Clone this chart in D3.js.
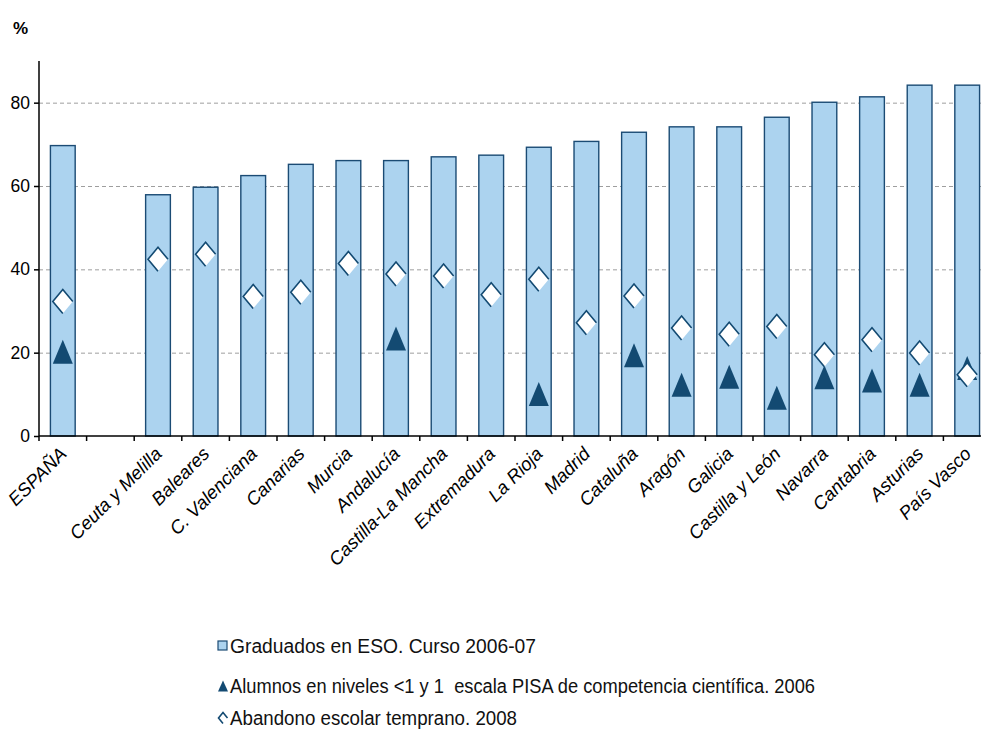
<!DOCTYPE html>
<html>
<head>
<meta charset="utf-8">
<script src="https://cdnjs.cloudflare.com/ajax/libs/d3/7.8.5/d3.min.js"></script>
<style>
  body { margin: 0; background: #fff; }
  svg { display: block; font-family: "Liberation Sans", Arial, sans-serif; }
</style>
</head>
<body>
<div id="chart"></div>
<script>
// regions, "" is the gap after ESPAÑA
const regions = ["ESPAÑA", "", "Ceuta y Melilla", "Baleares", "C. Valenciana", "Canarias",
  "Murcia", "Andalucía", "Castilla-La Mancha", "Extremadura", "La Rioja", "Madrid",
  "Cataluña", "Aragón", "Galicia", "Castilla y León", "Navarra", "Cantabria",
  "Asturias", "País Vasco"];

// Graduados en ESO. Curso 2006-07
const graduados = [69.7, null, 57.9, 59.7, 62.5, 65.2, 66.1, 66.1, 67.0, 67.4, 69.3,
  70.7, 72.9, 74.2, 74.2, 76.5, 80.1, 81.4, 84.2, 84.2];

// Alumnos en niveles <1 y 1 escala PISA (only some regions)
const pisa = [20.2, null, null, null, null, null, null, 23.4, null, null, 10.1,
  null, 19.4, 12.3, 14.2, 9.2, 14.1, 13.3, 12.3, 16.3];

// Abandono escolar temprano. 2008
const abandono = [32.3, null, 42.4, 43.6, 33.5, 34.5, 41.4, 38.9, 38.4, 33.9, 37.6,
  27.2, 33.6, 25.9, 24.4, 26.3, 19.5, 23.1, 19.9, 14.7];

const yTicks = [0, 20, 40, 60, 80];

const legendLabels = [
  "Graduados en ESO. Curso 2006-07",
  "Alumnos en niveles <1 y 1  escala PISA de competencia científica. 2006",
  "Abandono escolar temprano. 2008"
];

const W = 981, H = 729;
const barFill = "#acd3ef", barStroke = "#1b4b74", dark = "#134a72";

const svg = d3.select("#chart").append("svg")
  .attr("width", W).attr("height", H);

const x = d3.scaleBand().domain(d3.range(regions.length))
  .range([39, 991]).paddingInner(0.48).paddingOuter(0.24);
const xEdge = d3.scaleLinear().domain([0, regions.length]).range([39, 991]);
const y = d3.scaleLinear().domain([0, 90]).range([436, 61]);

// gridlines
svg.append("g").selectAll("line")
  .data(yTicks.filter(d => d > 0)).enter().append("line")
  .attr("x1", 39).attr("x2", W).attr("y1", d => y(d) + 0.5).attr("y2", d => y(d) + 0.5)
  .attr("stroke", "#9e9e9e").attr("stroke-width", 1).attr("stroke-dasharray", "4,3");

// bars
svg.append("g").selectAll("rect")
  .data(graduados.map((v, i) => ({ v, i })).filter(d => d.v != null)).enter().append("rect")
  .attr("x", d => x(d.i)).attr("width", x.bandwidth())
  .attr("y", d => y(d.v)).attr("height", d => y(0) - y(d.v))
  .attr("fill", barFill).attr("stroke", barStroke).attr("stroke-width", 1.4);

// y axis
const yAxis = d3.axisLeft(y).tickValues(yTicks).tickSize(5).tickPadding(4);
const gy = svg.append("g").attr("transform", "translate(39,0)").call(yAxis);
gy.select(".domain").attr("stroke", "#000").attr("stroke-width", 1.5)
  .attr("d", `M0,${y(90)}V${y(0)}`);
gy.selectAll(".tick line").attr("stroke", "#000").attr("stroke-width", 1.5);
gy.selectAll(".tick text").attr("font-size", 17.5).attr("fill", "#000")
  .attr("font-family", "Liberation Sans, Arial, sans-serif");

// x axis line + ticks at band edges
const gx = svg.append("g");
gx.append("line").attr("x1", 39).attr("x2", W).attr("y1", y(0)).attr("y2", y(0))
  .attr("stroke", "#000").attr("stroke-width", 1.5);
gx.selectAll("line.tk").data(d3.range(regions.length + 1)).enter().append("line")
  .attr("class", "tk")
  .attr("x1", d => xEdge(d)).attr("x2", d => xEdge(d))
  .attr("y1", y(0)).attr("y2", y(0) + 5)
  .attr("stroke", "#000").attr("stroke-width", 1.5);
gx.selectAll("text").data(regions.map((r, i) => ({ r, i })).filter(d => d.r)).enter()
  .append("text")
  .attr("transform", d => `translate(${x(d.i) + x.bandwidth() / 2 + 5},${y(0) + 19}) rotate(-45)`)
  .attr("text-anchor", "end")
  .attr("font-size", 18.5).attr("font-style", "italic")
  .attr("fill", "#000")
  .text(d => d.r);

// diamond marker: white body, dark outline on three sides
function diamond(g, cx, cy, w, h) {
  g.append("path")
    .attr("d", `M${cx},${cy - h / 2}L${cx + w / 2},${cy}L${cx},${cy + h / 2}L${cx - w / 2},${cy}Z`)
    .attr("fill", "#fff");
  g.append("path")
    .attr("d", `M${cx},${cy + h / 2}L${cx - w / 2},${cy}L${cx},${cy - h / 2}L${cx + w / 2},${cy}`)
    .attr("fill", "none").attr("stroke", dark).attr("stroke-width", 1.6);
}
function triangle(g, cx, cy, w, h) {
  g.append("path")
    .attr("d", `M${cx},${cy - h / 2}L${cx + w / 2},${cy + h / 2}L${cx - w / 2},${cy + h / 2}Z`)
    .attr("fill", dark);
}

const gm = svg.append("g");
pisa.forEach((v, i) => {
  if (v != null) triangle(gm, x(i) + x.bandwidth() / 2, y(v), 20, 24);
});
abandono.forEach((v, i) => {
  if (v != null) diamond(gm, x(i) + x.bandwidth() / 2, y(v), 20, 24);
});

// "%" title
svg.append("text").attr("x", 13).attr("y", 34)
  .attr("font-size", 17).attr("font-weight", "bold").text("%");

// legend
const lg = svg.append("g");
const rows = [653, 693, 725];
const legendWidths = [306, 585, 287];
lg.append("rect").attr("x", 218).attr("y", rows[0] - 12).attr("width", 9).attr("height", 9)
  .attr("fill", barFill).attr("stroke", barStroke).attr("stroke-width", 1.2);
triangle(lg, 223, rows[1] - 7, 10, 11);
diamond(lg, 223, rows[2] - 7, 9, 11);
lg.selectAll("text").data(legendLabels).enter().append("text")
  .attr("x", 230).attr("y", (d, i) => rows[i])
  .attr("font-size", 19.5)
  .attr("textLength", (d, i) => legendWidths[i])
  .attr("lengthAdjust", "spacingAndGlyphs")
  .attr("fill", "#111")
  .style("white-space", "pre")
  .text(d => d);
</script>
</body>
</html>
